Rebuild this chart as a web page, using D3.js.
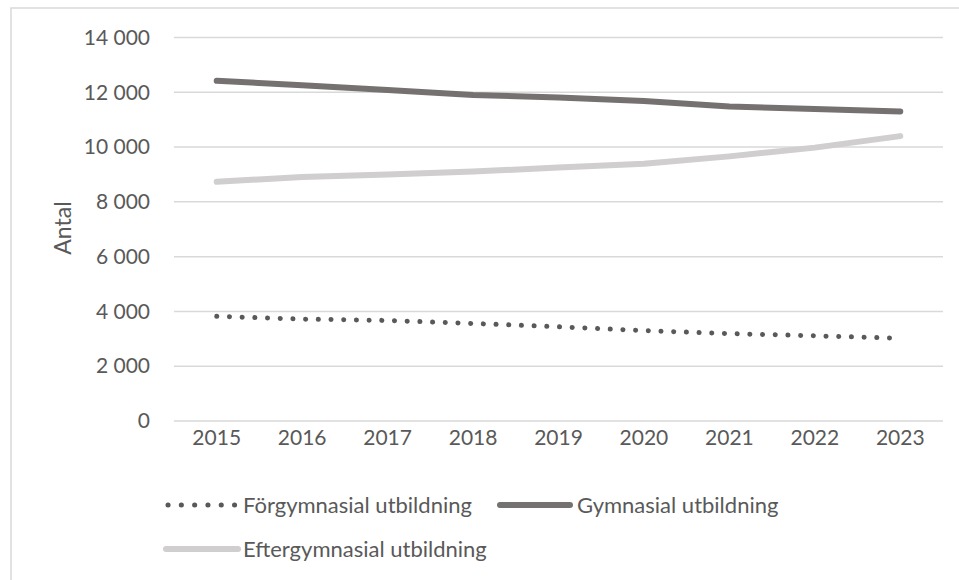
<!DOCTYPE html>
<html>
<head>
<meta charset="utf-8">
<script src="https://cdn.jsdelivr.net/npm/d3@7"></script>
<style>
  html, body { margin: 0; padding: 0; background: #fff; }
  svg { display: block; font-family: Lato, "Open Sans", sans-serif; }
</style>
</head>
<body>
<svg id="chart" width="959" height="580"></svg>
<script>
const years = ["2015","2016","2017","2018","2019","2020","2021","2022","2023"];
const forgymnasial = [3820, 3720, 3670, 3560, 3440, 3300, 3190, 3110, 3020];
const gymnasial = [12420, 12260, 12080, 11900, 11810, 11680, 11480, 11390, 11300];
const eftergymnasial = [8730, 8910, 9000, 9110, 9250, 9390, 9660, 9980, 10400];
const yTicks = [0, 2000, 4000, 6000, 8000, 10000, 12000, 14000];
const seriesNames = ["Förgymnasial utbildning", "Gymnasial utbildning", "Eftergymnasial utbildning"];
const yLabel = "Antal";

(function () {
const series = [
  {name: seriesNames[0], values: forgymnasial, color: "#595959", width: 5, dash: "0.1 12.6", cap: "round"},
  {name: seriesNames[1], values: gymnasial, color: "#767171", width: 6, dash: null, cap: "round"},
  {name: seriesNames[2], values: eftergymnasial, color: "#d0cece", width: 6, dash: null, cap: "round"}
];

const svg = d3.select("#chart");
const mLeft = 174, mRight = 943, mTop = 37.5, mBottom = 421;

// outer chart border (cropped: top & left visible)
svg.append("path").attr("d", "M11,960 L11,8 L965,8").attr("fill", "none").attr("stroke", "#d9d9d9").attr("stroke-width", 1.5);

const x = d3.scaleBand().domain(years).range([mLeft, mRight]);
const y = d3.scaleLinear().domain([0, 14000]).range([mBottom, mTop]);

// gridlines
svg.append("g").selectAll("line").data(yTicks).join("line")
  .attr("x1", mLeft).attr("x2", mRight)
  .attr("y1", d => y(d)).attr("y2", d => y(d))
  .attr("stroke", "#d9d9d9").attr("stroke-width", 1.5);

// y axis
const yAxis = svg.append("g").attr("transform", `translate(${mLeft},0)`)
  .call(d3.axisLeft(y).tickValues(yTicks).tickSize(0).tickPadding(24).tickFormat(d => d3.format(",")(d).replace(/,/g, " ")));
yAxis.select(".domain").remove();
yAxis.selectAll("text").attr("fill", "#595959").style("font-size", "21px").style("font-family", "Lato, sans-serif");

// x axis
const xAxis = svg.append("g").attr("transform", `translate(0,${mBottom})`)
  .call(d3.axisBottom(x).tickSize(0).tickPadding(9));
xAxis.select(".domain").remove();
xAxis.selectAll("text").attr("fill", "#595959").style("font-size", "21px").style("font-family", "Lato, sans-serif");

// y label
svg.append("text").attr("transform", "translate(63,228) rotate(-90)")
  .attr("text-anchor", "middle").attr("dy", "0.35em").attr("fill", "#595959")
  .style("font-size", "23px").text(yLabel);

// lines
const line = d3.line().x((d, i) => x(years[i]) + x.bandwidth() / 2).y(d => y(d));
series.forEach(s => {
  const p = svg.append("path").datum(s.values).attr("d", line)
    .attr("fill", "none").attr("stroke", s.color).attr("stroke-width", s.width)
    .attr("stroke-linecap", s.cap).attr("stroke-linejoin", "round");
  if (s.dash) p.attr("stroke-dasharray", s.dash);
});

// legend
const legendItems = [
  {s: series[0], x0: 168, x1: 237, tx: 243, ty: 505},
  {s: series[1], x0: 500, x1: 570, tx: 577, ty: 505},
  {s: series[2], x0: 166, x1: 238, tx: 243, ty: 549}
];
legendItems.forEach(l => {
  const p = svg.append("line").attr("x1", l.x0).attr("x2", l.x1).attr("y1", l.ty).attr("y2", l.ty)
    .attr("stroke", l.s.color).attr("stroke-width", l.s.width).attr("stroke-linecap", l.s.cap);
  if (l.s.dash) p.attr("stroke-dasharray", "0.1 13.2");
  svg.append("text").attr("x", l.tx).attr("y", l.ty).attr("dy", "0.35em")
    .attr("fill", "#595959").style("font-size", "22px").text(l.s.name);
});
})();
</script>
</body>
</html>
